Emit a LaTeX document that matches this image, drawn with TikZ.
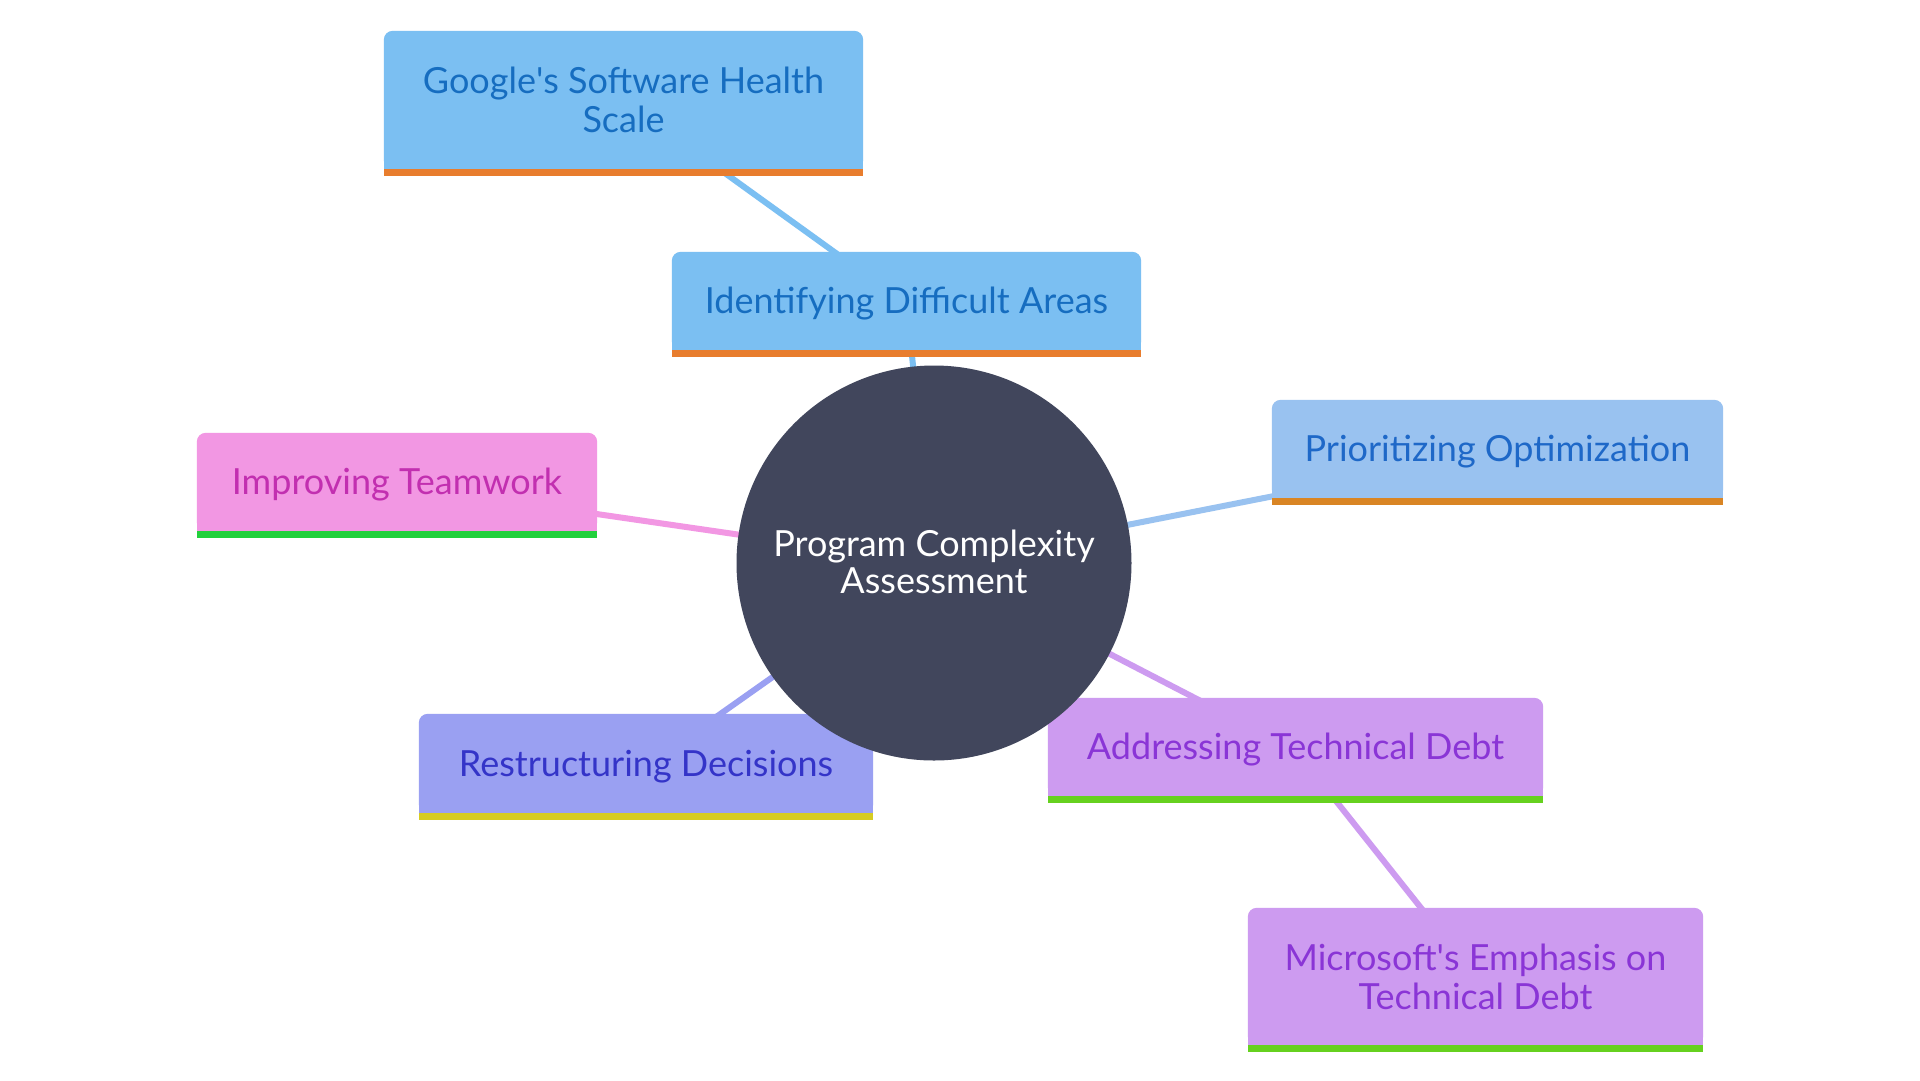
\documentclass[tikz,border=0pt]{standalone}
\usepackage{fontspec}
\setmainfont{Lato}
\pgfdeclarelayer{bg}
\pgfdeclarelayer{edges}
\pgfdeclarelayer{boxes}
\pgfsetlayers{bg,edges,boxes,main}
\definecolor{blueA}{HTML}{7BBFF2}
\definecolor{blueAt}{HTML}{166DC0}
\definecolor{blueB}{HTML}{99C2F0}
\definecolor{blueBt}{HTML}{1E68C8}
\definecolor{orangeA}{HTML}{E87D2E}
\definecolor{orangeB}{HTML}{D98524}
\definecolor{pinkA}{HTML}{F297E3}
\definecolor{pinkAt}{HTML}{C22FB0}
\definecolor{greenA}{HTML}{22D03C}
\definecolor{lavA}{HTML}{9AA0F2}
\definecolor{lavAt}{HTML}{3434C8}
\definecolor{yellowA}{HTML}{D6CC22}
\definecolor{purpA}{HTML}{CD9BF0}
\definecolor{purpAt}{HTML}{8A35D6}
\definecolor{greenB}{HTML}{66D11F}
\definecolor{centerc}{HTML}{41465C}
\tikzset{
  x=1pt, y=-1pt,
  lbl/.style={inner sep=0pt, align=center, font=\fontsize{36}{39}\selectfont},
  edge/.style={line width=6pt},
}
% #1 node, #2 fill, #3 bar colour, #4 upward offset of the box relative to the text
\newcommand{\mmbox}[4]{%
  \begin{pgfonlayer}{boxes}
    \fill[#2, rounded corners=9pt] ([yshift=#4]#1.south west) rectangle ([yshift=#4]#1.north east);
    \fill[#2] ([yshift=#4]#1.south west) rectangle ([yshift=#4+20pt]#1.east);
    \fill[#3] ([yshift=#4]#1.south west) rectangle ([yshift=#4-7pt]#1.south east);
  \end{pgfonlayer}}
\begin{document}
\begin{tikzpicture}
\begin{pgfonlayer}{bg}
\fill[white] (0,0) rectangle (1920,1080);
\end{pgfonlayer}
\useasboundingbox (0,0) rectangle (1920,1080);
\node[circle, fill=centerc, minimum size=395pt, inner sep=0pt, lbl, text=white] (center) at (934,563) {\raisebox{3pt}{\shortstack{Program Complexity\\[2pt]Assessment}}};
\node[lbl, text=blueAt, minimum width=479pt, minimum height=138pt] (google) at (623.5,100) {Google\textquotesingle s Software Health\\Scale};
\node[lbl, text=blueAt, minimum width=469pt, minimum height=98pt] (ident) at (906.5,304) {Identifying Difficult Areas};
\node[lbl, text=blueBt, minimum width=451pt, minimum height=98pt] (prior) at (1497.5,452) {Prioritizing Optimization};
\node[lbl, text=pinkAt, minimum width=400pt, minimum height=98pt] (team) at (397,485) {Improving Teamwork};
\node[lbl, text=lavAt, minimum width=454pt, minimum height=99pt] (restr) at (646,766.5) {Restructuring Decisions};
\node[lbl, text=purpAt, minimum width=495pt, minimum height=98pt] (addr) at (1295.5,750) {Addressing Technical Debt};
\node[lbl, text=purpAt, minimum width=455pt, minimum height=137pt] (micro) at (1475.5,976.5) {Microsoft\textquotesingle s Emphasis on\\Technical Debt};
\mmbox{google}{blueA}{orangeA}{0pt}
\mmbox{ident}{blueA}{orangeA}{3pt}
\mmbox{prior}{blueB}{orangeB}{3pt}
\mmbox{team}{pinkA}{greenA}{3pt}
\mmbox{restr}{lavA}{yellowA}{3pt}
\mmbox{addr}{purpA}{greenB}{3pt}
\mmbox{micro}{purpA}{greenB}{0pt}
\begin{pgfonlayer}{edges}
\draw[edge, blueA] (google.center) -- (ident.center);
\draw[edge, blueA] (center.center) -- (ident.center);
\draw[edge, blueB] (center.center) -- (prior.center);
\draw[edge, pinkA] (center.center) -- (team.center);
\draw[edge, lavA] (center.center) -- (restr.center);
\draw[edge, purpA] (center.center) -- (addr.center);
\draw[edge, purpA] (addr.center) -- (micro.center);
\end{pgfonlayer}
\end{tikzpicture}
\end{document}
